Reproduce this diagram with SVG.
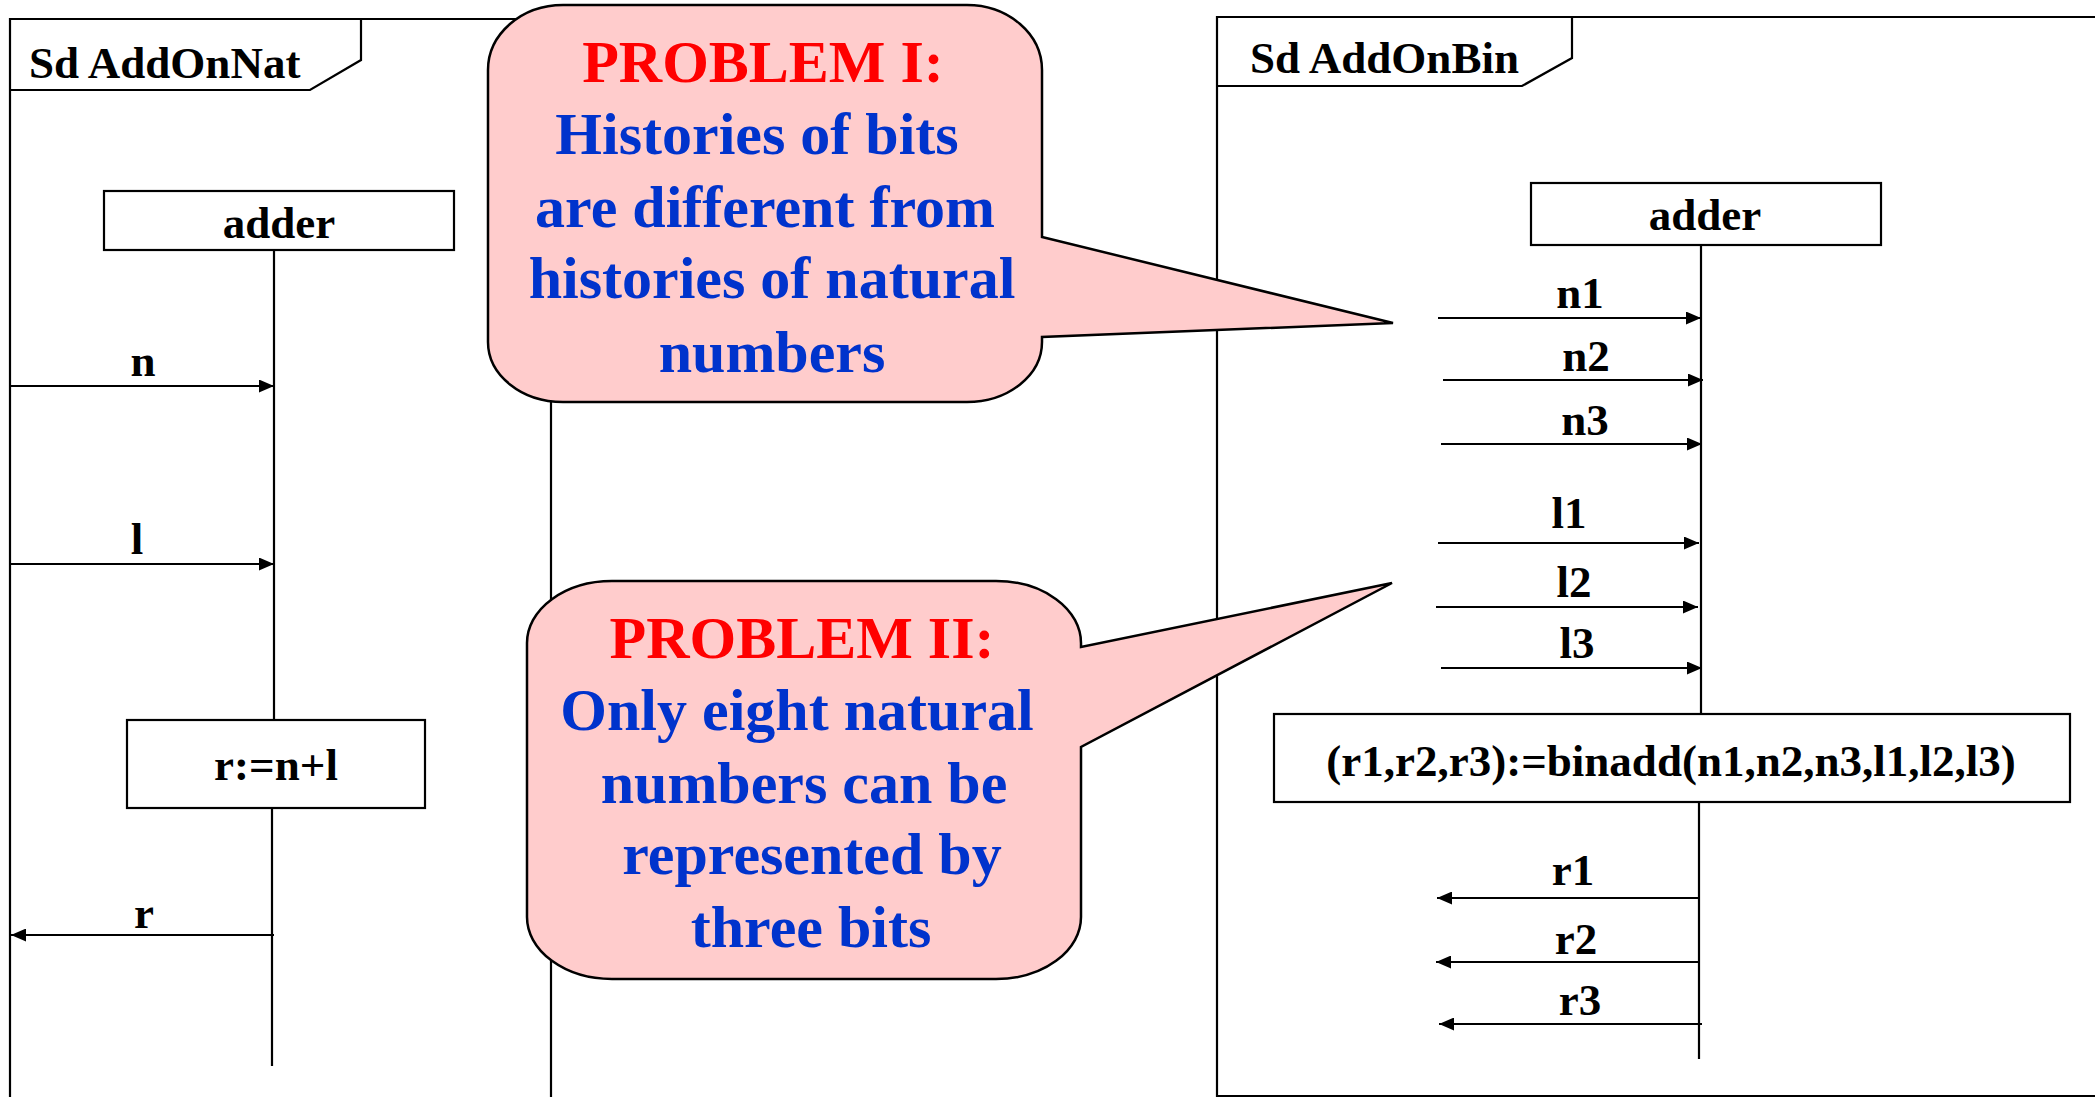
<svg xmlns="http://www.w3.org/2000/svg" width="2095" height="1097" viewBox="0 0 2095 1097">
<style>
  text { font-family: "Liberation Serif", "Times New Roman", serif; font-weight: bold; }
  .lbl { font-size: 45px; fill: #000; text-anchor: middle; }
  .hdr { font-size: 45px; fill: #000; }
  .frame { fill: none; stroke: #000; stroke-width: 2.2; }
  .box { fill: #fff; stroke: #000; stroke-width: 2.2; }
  .life { fill: none; stroke: #000; stroke-width: 2.2; }
  .msg { fill: none; stroke: #000; stroke-width: 2.2; marker-end: url(#arr); }
  .bubble { fill: #FFCCCC; stroke: #000; stroke-width: 2.5; }
  .red { font-size: 60px; fill: #FF0000; text-anchor: middle; }
  .blue { font-size: 60px; fill: #0033CC; text-anchor: middle; }
</style>
<defs>
  <marker id="arr" viewBox="0 0 15 13" refX="15" refY="6.5" markerWidth="15" markerHeight="13" markerUnits="userSpaceOnUse" orient="auto">
    <path d="M0,0 L15,6.5 L0,13 Z" fill="#000"/>
  </marker>
</defs>
<rect width="2095" height="1097" fill="#fff"/>

<g id="frame-addonnat">
  <path class="frame" d="M10,1100 V19 H551 V1100"/>
  <path class="frame" d="M10,90 H310 L361,60 V19"/>
  <text class="hdr" x="29" y="78">Sd AddOnNat</text>
</g>

<g id="frame-addonbin">
  <path class="frame" d="M2100,17 H1217 V1096 H2100"/>
  <path class="frame" d="M1217,86 H1522 L1572,58 V17"/>
  <text class="hdr" x="1250" y="73">Sd AddOnBin</text>
</g>

<g id="connectors">
  <!-- lifelines -->
  <path class="life" d="M274,250 V719"/>
  <path class="life" d="M272,808 V1066"/>
  <path class="life" d="M1701,245 V714"/>
  <path class="life" d="M1699,802 V1059"/>
  <!-- AddOnNat messages -->
  <line class="msg" x1="11" y1="386" x2="274" y2="386"/>
  <text class="lbl" x="143" y="376">n</text>
  <line class="msg" x1="11" y1="564" x2="274" y2="564"/>
  <text class="lbl" x="137" y="554">l</text>
  <line class="msg" x1="274" y1="935" x2="11" y2="935"/>
  <text class="lbl" x="144" y="928">r</text>
  <!-- AddOnBin messages -->
  <line class="msg" x1="1438" y1="318" x2="1701" y2="318"/>
  <text class="lbl" x="1580" y="308">n1</text>
  <line class="msg" x1="1443" y1="380" x2="1703" y2="380"/>
  <text class="lbl" x="1586" y="371">n2</text>
  <line class="msg" x1="1441" y1="444" x2="1702" y2="444"/>
  <text class="lbl" x="1585" y="435">n3</text>
  <line class="msg" x1="1438" y1="543" x2="1699" y2="543"/>
  <text class="lbl" x="1569" y="528">l1</text>
  <line class="msg" x1="1436" y1="607" x2="1698" y2="607"/>
  <text class="lbl" x="1574" y="597">l2</text>
  <line class="msg" x1="1441" y1="668" x2="1702" y2="668"/>
  <text class="lbl" x="1577" y="658">l3</text>
  <line class="msg" x1="1699" y1="898" x2="1437" y2="898"/>
  <text class="lbl" x="1573" y="885">r1</text>
  <line class="msg" x1="1698" y1="962" x2="1436" y2="962"/>
  <text class="lbl" x="1576" y="954">r2</text>
  <line class="msg" x1="1702" y1="1024" x2="1439" y2="1024"/>
  <text class="lbl" x="1580" y="1015">r3</text>
</g>

<g id="adder-nat">
  <rect class="box" x="104" y="191" width="350" height="59"/>
  <text class="lbl" x="279" y="238">adder</text>
</g>

<g id="compute-nat">
  <rect class="box" x="127" y="720" width="298" height="88"/>
  <text class="lbl" x="276" y="780">r:=n+l</text>
</g>

<g id="adder-bin">
  <rect class="box" x="1531" y="183" width="350" height="62"/>
  <text class="lbl" x="1705" y="230">adder</text>
</g>

<g id="compute-bin">
  <rect class="box" x="1274" y="714" width="796" height="88"/>
  <text class="lbl" x="1671" y="776">(r1,r2,r3):=binadd(n1,n2,n3,l1,l2,l3)</text>
</g>

<g id="problem-1">
  <path class="bubble" d="M563,5 H967 A75,65 0 0 1 1042,70 V237 L1393,323 L1042,337 V342 A75,60 0 0 1 967,402 H563 A75,60 0 0 1 488,342 V70 A75,65 0 0 1 563,5 Z"/>
  <text class="red" x="763" y="82">PROBLEM I:</text>
  <text class="blue" x="757" y="154">Histories of bits</text>
  <text class="blue" x="765" y="227">are different from</text>
  <text class="blue" x="772" y="298">histories of natural</text>
  <text class="blue" x="772" y="372">numbers</text>
</g>

<g id="problem-2">
  <path class="bubble" d="M612,581 H996 A85,62 0 0 1 1081,643 V647 L1392,583 L1081,747 V917 A85,62 0 0 1 996,979 H612 A85,62 0 0 1 527,917 V643 A85,62 0 0 1 612,581 Z"/>
  <text class="red" x="802" y="658">PROBLEM II:</text>
  <text class="blue" x="797" y="730">Only eight natural</text>
  <text class="blue" x="804" y="803">numbers can be</text>
  <text class="blue" x="812" y="874">represented by</text>
  <text class="blue" x="811" y="947">three bits</text>
</g>
</svg>
